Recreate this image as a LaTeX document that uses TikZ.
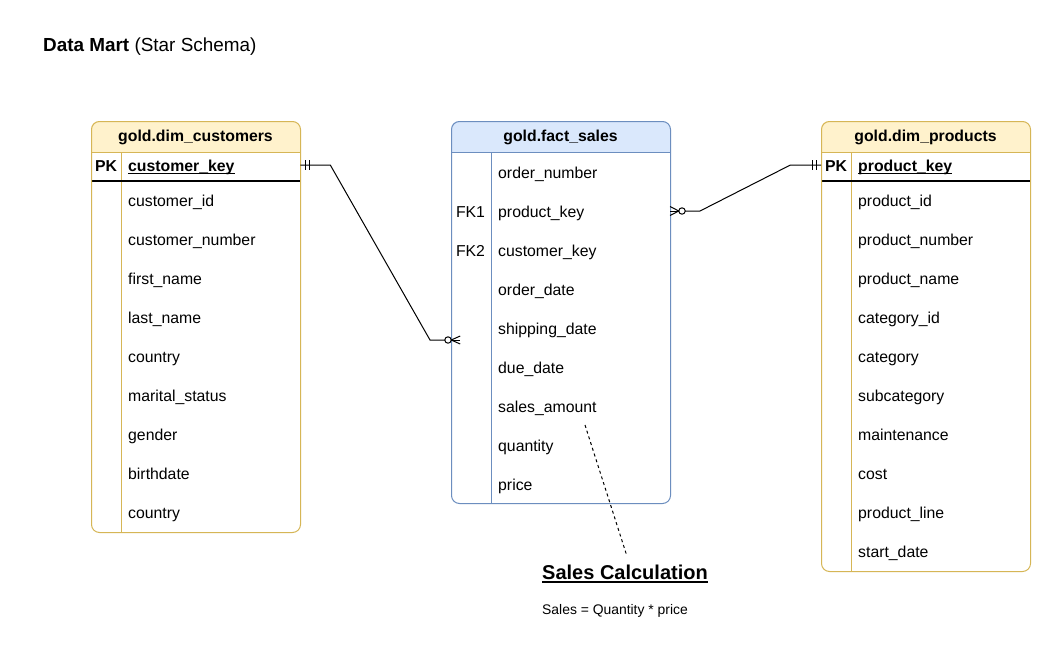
\documentclass[tikz,border=0pt]{standalone}
\usepackage{fontspec}
\setmainfont{Liberation Sans}
\usetikzlibrary{calc}
\definecolor{ylfill}{HTML}{FFF2CC}
\definecolor{ylline}{HTML}{D6B656}
\definecolor{blfill}{HTML}{DAE8FC}
\definecolor{blline}{HTML}{6C8EBF}
\begin{document}
\begin{tikzpicture}[x=1pt,y=-1pt,
  rowtxt/.style={anchor=base west, inner sep=0pt, font=\fontsize{15.8}{18}\selectfont},
  keytxt/.style={anchor=base, inner sep=0pt, font=\fontsize{15.8}{18}\selectfont},
  pktxt/.style={anchor=base, inner sep=0pt, font=\fontsize{15.8}{18}\selectfont\bfseries},
  pkname/.style={anchor=base west, inner sep=0pt, font=\fontsize{15.8}{18}\selectfont\bfseries},
  hdrtxt/.style={anchor=base, inner sep=0pt, font=\fontsize{15.8}{18}\selectfont\bfseries},
  tblframe/.style={rounded corners=8pt, line width=1pt, anchor=north west, inner sep=0pt, minimum width=209pt},
  rowbox/.style={anchor=north west, inner sep=0pt, minimum height=29pt},
  conn/.style={line width=1pt, black},
  endmark/.style={line width=1pt, black},
  ulline/.style={line width=1pt, black},
]
\useasboundingbox (0,0) rectangle (1051,653);
\fill[white] (0,0) rectangle (1051,653);

% Title
\node[anchor=base west, inner sep=0pt, font=\fontsize{18.9}{22}\selectfont] (title) at (43,51.8)
  {\textbf{Data Mart} (Star Schema)};

% ---------- gold.dim_customers ----------
\begin{scope}
  \clip (91,121) rectangle (300,152);
  \fill[ylfill, rounded corners=8pt] (91,121) rectangle (300,175);
\end{scope}
\draw[ylline, line width=1pt] (91,152) -- (300,152);
\draw[ylline, line width=1pt] (121,152) -- (121,532);
\draw[black, line width=1.2pt] (91,181) -- (300,181);
\node[tblframe, draw=ylline, minimum height=411pt] (cust) at (91,121) {};
\node[hdrtxt] (cust-title) at (195.5,141.6) {gold.dim\_customers};
\node[rowbox, minimum width=209pt] (cust-pk) at (91,150.5) {};
\node[pktxt] (cust-pklbl) at (106,171.4) {PK};
\node[pkname] (cust-key) at (128,171.4) {customer\_key};
\draw[ulline] ([yshift=-2pt]cust-key.base west) -- ([yshift=-2pt]cust-key.base east);
\foreach \t [count=\i from 0] in {customer\_id,customer\_number,first\_name,last\_name,country,marital\_status,gender,birthdate,country}
  \node[rowtxt] (cust-r\i) at (128,{206.5+39*\i}) {\t};

% ---------- gold.fact_sales ----------
\begin{scope}
  \clip (451,121) rectangle (670,152);
  \fill[blfill, rounded corners=8pt] (451,121) rectangle (670,175);
\end{scope}
\draw[blline, line width=1pt] (451,152) -- (670,152);
\draw[blline, line width=1pt] (491,152) -- (491,503);
\node[tblframe, draw=blline, minimum width=219pt, minimum height=382pt] (fact) at (451,121) {};
\node[hdrtxt] (fact-title) at (560.5,141.6) {gold.fact\_sales};
\foreach \t [count=\i from 0] in {order\_number,product\_key,customer\_key,order\_date,shipping\_date,due\_date,sales\_amount,quantity,price}
  \node[rowtxt] (fact-r\i) at (498,{178.5+39*\i}) {\t};
\node[keytxt] (fact-fk1) at (470.5,217.5) {FK1};
\node[keytxt] (fact-fk2) at (470.5,256.5) {FK2};
\coordinate (fact-in) at (451,340);
\coordinate (fact-out) at (670,211);

% ---------- gold.dim_products ----------
\begin{scope}
  \clip (821,121) rectangle (1030,152);
  \fill[ylfill, rounded corners=8pt] (821,121) rectangle (1030,175);
\end{scope}
\draw[ylline, line width=1pt] (821,152) -- (1030,152);
\draw[ylline, line width=1pt] (851,152) -- (851,571);
\draw[black, line width=1.2pt] (821,181) -- (1030,181);
\node[tblframe, draw=ylline, minimum height=450pt] (prod) at (821,121) {};
\node[hdrtxt] (prod-title) at (925.5,141.6) {gold.dim\_products};
\node[rowbox, minimum width=209pt] (prod-pk) at (821,150.5) {};
\node[pktxt] (prod-pklbl) at (836,171.4) {PK};
\node[pkname] (prod-key) at (858,171.4) {product\_key};
\draw[ulline] ([yshift=-2pt]prod-key.base west) -- ([yshift=-2pt]prod-key.base east);
\foreach \t [count=\i from 0] in {product\_id,product\_number,product\_name,category\_id,category,subcategory,maintenance,cost,product\_line,start\_date}
  \node[rowtxt] (prod-r\i) at (858,{206.5+39*\i}) {\t};

% ---------- connector customers -> fact ----------
\draw[conn] (cust-pk.east) -- ++(30,0) -- ($(fact-in)+(-21,0)$) -- ($(fact-in)+(-6.2,0)$);
\draw[endmark] ($(cust-pk.east)+(5,-5)$) -- ++(0,10);
\draw[endmark] ($(cust-pk.east)+(9,-5)$) -- ++(0,10);
\draw[endmark] ($(fact-in)+(-3,0)$) circle (3.2pt);
\draw[endmark] ($(fact-in)+(0.2,0)$) -- ++(9,-4);
\draw[endmark] ($(fact-in)+(0.2,0)$) -- ++(9,0);
\draw[endmark] ($(fact-in)+(0.2,0)$) -- ++(9,4);

% ---------- connector fact -> products ----------
\draw[conn] ($(fact-out)+(15.2,0)$) -- ++(14.8,0) -- ($(prod-pk.west)+(-31,0)$) -- (prod-pk.west);
\draw[endmark] ($(fact-out)+(12,0)$) circle (3.2pt);
\draw[endmark] ($(fact-out)+(8.8,0)$) -- ++(-8.8,-4.5);
\draw[endmark] ($(fact-out)+(8.8,0)$) -- ++(-8.8,0);
\draw[endmark] ($(fact-out)+(8.8,0)$) -- ++(-8.8,4.5);
\draw[endmark] ($(prod-pk.west)+(-9,-5)$) -- ++(0,10);
\draw[endmark] ($(prod-pk.west)+(-5,-5)$) -- ++(0,10);

% ---------- note ----------
\node[anchor=base, inner sep=0pt, font=\fontsize{20}{24}\selectfont\bfseries] (calc-title) at (625,579) {Sales Calculation};
\draw[line width=1.4pt] ([yshift=-3pt]calc-title.base west) -- ([yshift=-3pt]calc-title.base east);
\node[anchor=base, inner sep=0pt, font=\fontsize{13.9}{16}\selectfont] (calc-text) at (615,614) {Sales = Quantity * price};
\coordinate (note-top) at (585,425);
\draw[line width=1pt, dash pattern=on 3pt off 3pt] (note-top) -- ($(calc-title.north)+(2,-8)$);
\end{tikzpicture}
\end{document}
